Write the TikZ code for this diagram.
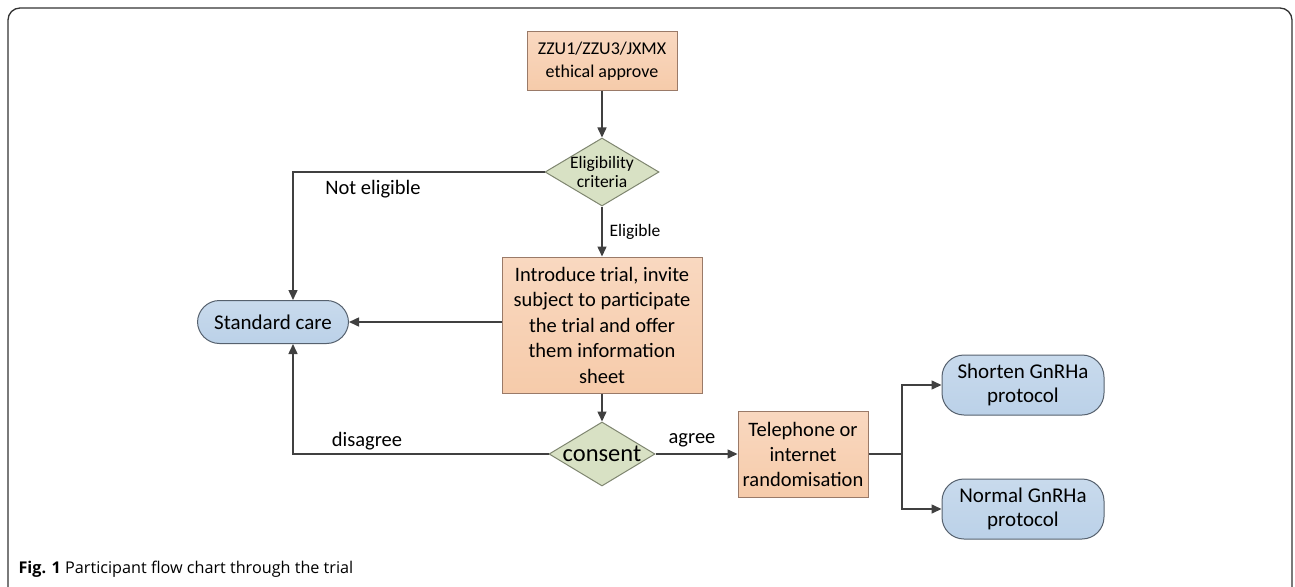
\documentclass[tikz,border=0pt]{standalone}
\usepackage{fontspec}
\setmainfont{Carlito}
\newfontfamily\capfont{Open Sans}
\usetikzlibrary{shapes.geometric,arrows.meta}
\definecolor{orfill}{HTML}{F6CBAA}
\definecolor{ortop}{HTML}{F9D8C0}
\definecolor{ordraw}{HTML}{9A7A68}
\definecolor{grfill}{HTML}{D8E1C4}
\definecolor{grdraw}{HTML}{7F8670}
\definecolor{blfill}{HTML}{BBD1E8}
\definecolor{bldraw}{HTML}{56616E}
\definecolor{ln}{HTML}{404040}
\tikzset{
  obox/.style={rectangle, draw=ordraw, line width=1pt, top color=ortop, bottom color=orfill, inner sep=0pt, align=center},
  diam/.style={diamond, draw=grdraw, line width=1pt, fill=grfill, inner sep=0pt},
  rbox/.style={rectangle, rounded corners=22pt, draw=bldraw, line width=1pt, top color=blfill!80!white, bottom color=blfill, inner sep=0pt, align=center, font=\fontsize{21}{24}\selectfont},
  conn/.style={draw=ln, line width=1.5pt, -{Triangle[length=10pt,width=9pt]}},
  seg/.style={draw=ln, line width=1.5pt},
  lbl/.style={font=\fontsize{20.5}{23}\selectfont, text=black}
}
\begin{document}
\begin{tikzpicture}[x=1pt,y=-1pt]
\useasboundingbox (0,0) rectangle (1295,586);
\fill[white] (0,0) rectangle (1295,586);
\draw[line width=1.3pt, color=black!80, rounded corners=12pt] (8,620) -- (8,8) -- (1292,8) -- (1292,620);

\node[obox, minimum width=150, minimum height=58, font=\fontsize{18}{23}\selectfont] (eth) at (602,61) {ZZU1/ZZU3/JXMX\\ethical approve};
\node[diam, minimum width=114, minimum height=68, label={[font=\fontsize{17.5}{19}\selectfont, align=center]center:Eligibility\\criteria}] (elig) at (602,172) {};
\node[obox, minimum width=200, minimum height=136, font=\fontsize{20.5}{25.5}\selectfont] (intro) at (602,325) {Introduce trial, invite\\subject to participate\\the trial and offer\\them information\\sheet};
\node[diam, minimum width=106, minimum height=64, label={[font=\fontsize{24.5}{26}\selectfont]center:consent}] (cons) at (602,454) {};
\node[obox, minimum width=130, minimum height=86, font=\fontsize{20.5}{25}\selectfont] (tel) at (803,454) {Telephone or\\internet\\randomisation};
\node[rbox, minimum width=151, minimum height=43] (std) at (273,322) {Standard care};
\node[rbox, minimum width=162, minimum height=60] (sho) at (1023,385) {Shorten GnRHa\\protocol};
\node[rbox, minimum width=162, minimum height=60] (nor) at (1023,509) {Normal GnRHa\\protocol};

\coordinate (jn) at (902,454);

\draw[conn] (eth) -- (elig);
\draw[conn] (elig) -- (intro);
\draw[conn] (intro) -- (cons);
\draw[conn] (cons) -- (tel);
\draw[conn] (elig.west) -| ([xshift=20pt]std.north);
\draw[conn] (intro.west |- std.east) -- (std.east);
\draw[conn] (cons.west) -| ([xshift=20pt]std.south);
\draw[seg] (tel.east) -- (jn);
\draw[conn] (jn) |- (sho.west);
\draw[conn] (jn) |- (nor.west);

\node[font=\fontsize{17.5}{19}\selectfont] (lelig) at (635,232) {Eligible};
\node[lbl] (lnot) at (373,189) {Not eligible};
\node[lbl] (ldis) at (367,441) {disagree};
\node[lbl] (lagr) at (692,440) {agree};

\node[anchor=west, font=\capfont\fontsize{16.2}{18}\selectfont] (cap) at (15,569) {\textbf{Fig. 1} Participant flow chart through the trial};
\end{tikzpicture}
\end{document}
